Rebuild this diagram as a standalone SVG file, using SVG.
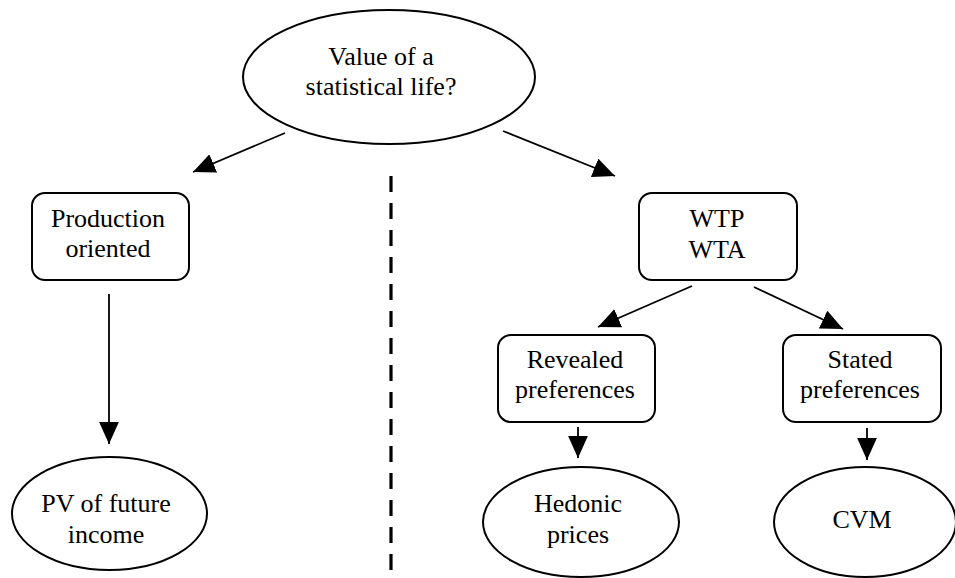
<svg xmlns="http://www.w3.org/2000/svg" width="955" height="578" viewBox="0 0 955 578">
<defs>
<marker id="ah" markerUnits="userSpaceOnUse" markerWidth="22" markerHeight="20" viewBox="0 0 20 18" refX="20" refY="9" orient="auto">
<path d="M0,0 L20,9 L0,18 z" fill="#000"/>
</marker>
</defs>
<rect width="955" height="578" fill="#fff"/>
<g id="connectors" stroke="#000" stroke-width="1.8" fill="none">
<line x1="285" y1="133" x2="193" y2="172" marker-end="url(#ah)"/>
<line x1="503" y1="131" x2="615" y2="176" marker-end="url(#ah)"/>
<line x1="109" y1="294" x2="109" y2="444" marker-end="url(#ah)"/>
<line x1="692" y1="286" x2="598" y2="327" marker-end="url(#ah)"/>
<line x1="754" y1="287" x2="843" y2="329" marker-end="url(#ah)"/>
<line x1="578" y1="427" x2="578" y2="458" marker-end="url(#ah)"/>
<line x1="867" y1="428" x2="867" y2="460" marker-end="url(#ah)"/>
<line x1="391" y1="176" x2="391" y2="578" stroke-width="3.2" stroke-dasharray="16 11"/>
</g>
<g id="vsl">
<ellipse cx="389" cy="77" rx="146" ry="67" fill="#fff" stroke="#000" stroke-width="2"/>
<text x="381" y="65" font-family="Liberation Serif" font-size="26" text-anchor="middle">Value of a</text>
<text x="381" y="95" font-family="Liberation Serif" font-size="26" text-anchor="middle">statistical life?</text>
</g>
<g id="production">
<rect x="32" y="193" width="157" height="87" rx="13" fill="#fff" stroke="#000" stroke-width="2"/>
<text x="108" y="227" font-family="Liberation Serif" font-size="26" text-anchor="middle">Production</text>
<text x="108" y="257" font-family="Liberation Serif" font-size="26" text-anchor="middle">oriented</text>
</g>
<g id="pv">
<ellipse cx="109.5" cy="513.5" rx="97.5" ry="56.5" fill="#fff" stroke="#000" stroke-width="2"/>
<text x="106" y="512" font-family="Liberation Serif" font-size="26" text-anchor="middle">PV of future</text>
<text x="106" y="543" font-family="Liberation Serif" font-size="26" text-anchor="middle">income</text>
</g>
<g id="wtp">
<rect x="639" y="193" width="158" height="87" rx="13" fill="#fff" stroke="#000" stroke-width="2"/>
<text x="717" y="227" font-family="Liberation Serif" font-size="26" text-anchor="middle">WTP</text>
<text x="717" y="258" font-family="Liberation Serif" font-size="26" text-anchor="middle">WTA</text>
</g>
<g id="revealed">
<rect x="498" y="335" width="157" height="87" rx="13" fill="#fff" stroke="#000" stroke-width="2"/>
<text x="575" y="368" font-family="Liberation Serif" font-size="26" text-anchor="middle">Revealed</text>
<text x="575" y="398" font-family="Liberation Serif" font-size="26" text-anchor="middle">preferences</text>
</g>
<g id="stated">
<rect x="783" y="335" width="158" height="87" rx="13" fill="#fff" stroke="#000" stroke-width="2"/>
<text x="860" y="368" font-family="Liberation Serif" font-size="26" text-anchor="middle">Stated</text>
<text x="860" y="398" font-family="Liberation Serif" font-size="26" text-anchor="middle">preferences</text>
</g>
<g id="hedonic">
<ellipse cx="581" cy="522" rx="98" ry="55" fill="#fff" stroke="#000" stroke-width="2"/>
<text x="578" y="512" font-family="Liberation Serif" font-size="26" text-anchor="middle">Hedonic</text>
<text x="578" y="543" font-family="Liberation Serif" font-size="26" text-anchor="middle">prices</text>
</g>
<g id="cvm">
<ellipse cx="865" cy="522" rx="91" ry="55" fill="#fff" stroke="#000" stroke-width="2"/>
<text x="862" y="528" font-family="Liberation Serif" font-size="26" text-anchor="middle">CVM</text>
</g>
</svg>
